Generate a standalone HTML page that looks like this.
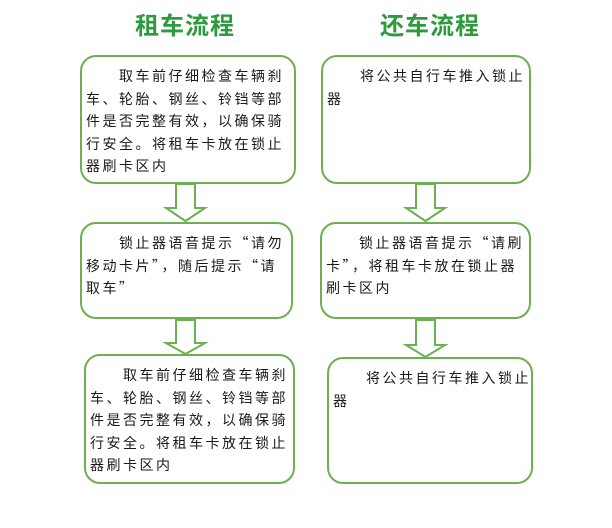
<!DOCTYPE html>
<html><head><meta charset="utf-8"><style>
body{margin:0;width:612px;height:528px;background:#fff;position:relative;overflow:hidden;font-family:"Noto Sans CJK SC",sans-serif;}
.t{position:absolute;top:6px;font-size:24px;font-weight:bold;color:#2e9a3e;letter-spacing:1px;width:200px;text-align:center;}
.b{position:absolute;border:2px solid #6cb14f;border-radius:16px;box-sizing:border-box;padding:8px 0 0 4px;font-size:14px;line-height:22.5px;letter-spacing:2.5px;color:#1a1a1a;white-space:nowrap;}
svg{position:absolute;left:0;top:0}
</style></head><body>
<div class="t" style="left:85px">租车流程</div>
<div class="t" style="left:330px">还车流程</div>
<div class="b" style="left:80px;top:55px;width:216px;height:129px">　　取车前仔细检查车辆刹<br>车、轮胎、钢丝、铃铛等部<br>件是否完整有效，以确保骑<br>行安全。将租车卡放在锁止<br>器刷卡区内</div>
<div class="b" style="left:321px;top:55px;width:210px;height:129px">　　将公共自行车推入锁止<br>器</div>
<div class="b" style="left:80px;top:222px;width:213px;height:97px">　　锁止器语音提示“请勿<br>移动卡片”，随后提示“请<br>取车”</div>
<div class="b" style="left:320px;top:222px;width:211px;height:97px">　　锁止器语音提示“请刷<br>卡”，将租车卡放在锁止器<br>刷卡区内</div>
<div class="b" style="left:84px;top:354px;width:211px;height:130px">　　取车前仔细检查车辆刹<br>车、轮胎、钢丝、铃铛等部<br>件是否完整有效，以确保骑<br>行安全。将租车卡放在锁止<br>器刷卡区内</div>
<div class="b" style="left:327px;top:357px;width:206px;height:127px">　　将公共自行车推入锁止<br>器</div>
<svg width="612" height="528">
<g fill="#fff" stroke="#6cb14f" stroke-width="2">
<polygon points="176,184 195,184 195,208 205,208 185.5,221 166,208 176,208"/>
<polygon points="176,320 195,320 195,343 205,343 185.5,354 166,343 176,343"/>
<polygon points="416,184 435,184 435,208 445,208 425.5,221 406,208 416,208"/>
<polygon points="416,320 435,320 435,345 445,345 425.5,357 406,345 416,345"/>
</g>
</svg>
</body></html>
